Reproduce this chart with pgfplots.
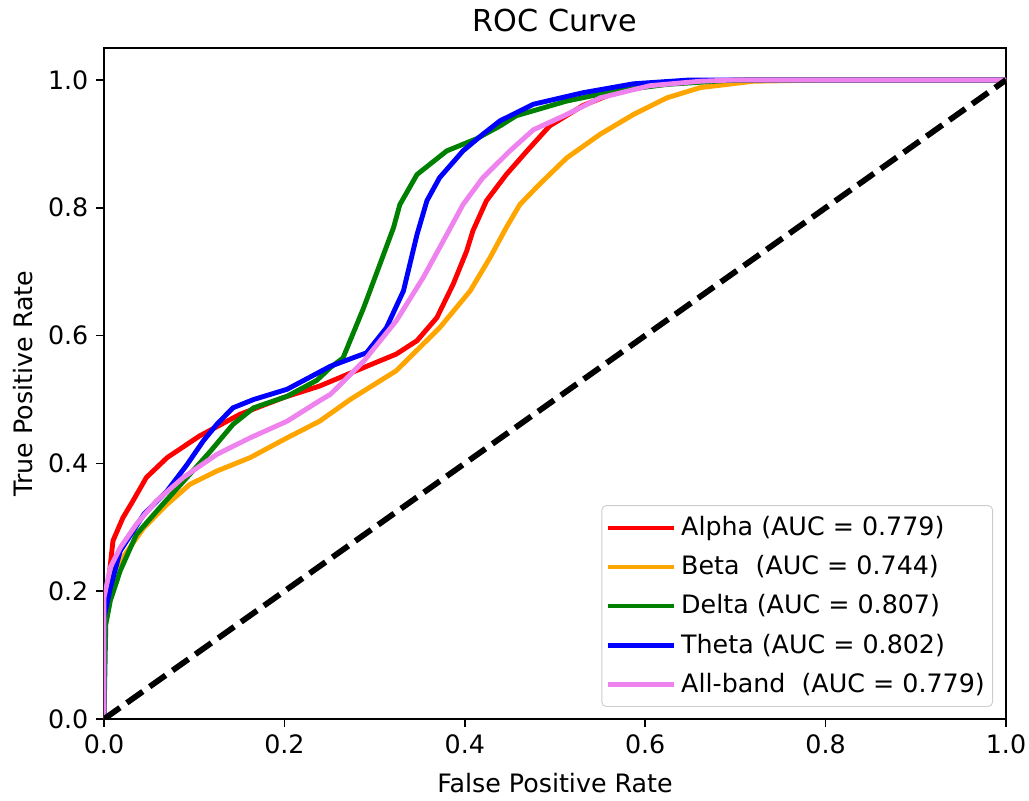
\documentclass[border=0pt]{standalone}
\usepackage{fontspec}
\setmainfont{DejaVu Sans}
\usepackage{pgfplots}
\pgfplotsset{compat=1.18}

\definecolor{mplorange}{HTML}{FFA500}
\definecolor{mplgreen}{HTML}{008000}
\definecolor{mplviolet}{HTML}{EE82EE}

\begin{document}
\begin{tikzpicture}
\begin{axis}[
    scale only axis,
    width=405.9pt, height=301.95pt,
    xmin=0, xmax=1, ymin=0, ymax=1.05,
    xtick={0,0.2,0.4,0.6,0.8,1},
    ytick={0,0.2,0.4,0.6,0.8,1},
    xticklabels={0.0,0.2,0.4,0.6,0.8,1.0},
    yticklabels={0.0,0.2,0.4,0.6,0.8,1.0},
    tick align=outside, tick pos=left,
    major tick length=3.5pt,
    tick style={black, line width=0.8pt},
    axis line style={line width=0.8pt},
    ticklabel style={font=\fontsize{11.4}{13.7}\selectfont},
    title={ROC Curve},
    title style={font=\fontsize{13.6}{16}\selectfont, yshift=-2.5pt},
    xlabel={False Positive Rate},
    ylabel={True Positive Rate},
    label style={font=\fontsize{11.4}{13.7}\selectfont},
    xlabel style={yshift=-2pt},
    legend cell align=left,
    legend style={at={(0.9856,0.018)}, anchor=south east,
        draw=black!20, rounded corners=2pt, fill=white, fill opacity=0.8,
        text opacity=1, font=\fontsize{11.4}{13.7}\selectfont,
        row sep=3.4pt, inner xsep=1.5pt, inner ysep=3pt},
    legend image code/.code={\draw[#1] (0pt,0pt) -- (24.75pt,0pt);
        \path (24.75pt,0pt) -- (30pt,0pt);},
    every axis plot/.append style={line width=2.2pt, line join=round},
]
% Alpha
\addplot[red] coordinates {
(0,0) (0,0.19) (0.005,0.216) (0.010,0.279) (0.021,0.315) (0.032,0.341)
(0.047,0.378) (0.070,0.409) (0.106,0.443) (0.151,0.477) (0.199,0.503)
(0.239,0.521) (0.288,0.550) (0.324,0.571) (0.347,0.592) (0.369,0.628)
(0.387,0.680) (0.402,0.732) (0.409,0.764) (0.424,0.811) (0.446,0.852)
(0.469,0.889) (0.494,0.928) (0.531,0.960) (0.568,0.981) (0.61,0.993)
(0.66,0.998) (0.72,1.0) (1,1)};
\addlegendentry{Alpha (AUC = 0.779)}
% Beta
\addplot[mplorange] coordinates {
(0,0) (0,0.19) (0.007,0.225) (0.018,0.247) (0.044,0.299) (0.070,0.336)
(0.095,0.367) (0.125,0.388) (0.162,0.409) (0.203,0.440) (0.239,0.466)
(0.273,0.500) (0.324,0.545) (0.372,0.612) (0.406,0.670) (0.428,0.722)
(0.446,0.769) (0.461,0.805) (0.483,0.837) (0.513,0.878) (0.550,0.915)
(0.587,0.946) (0.624,0.972) (0.661,0.988) (0.72,0.998) (0.80,1.0) (1,1)};
\addlegendentry{Beta\ \ (AUC = 0.744)}
% Delta
\addplot[mplgreen] coordinates {
(0,0) (0.002,0.148) (0.007,0.185) (0.018,0.232) (0.036,0.289) (0.062,0.331)
(0.092,0.378) (0.118,0.419) (0.143,0.461) (0.166,0.487) (0.203,0.505)
(0.236,0.530) (0.251,0.550) (0.265,0.565) (0.288,0.644) (0.306,0.712)
(0.321,0.769) (0.328,0.805) (0.347,0.852) (0.380,0.889) (0.413,0.908)
(0.439,0.928) (0.457,0.944) (0.513,0.967) (0.568,0.983) (0.624,0.993)
(0.70,1.0) (1,1)};
\addlegendentry{Delta (AUC = 0.807)}
% Theta
\addplot[blue] coordinates {
(0,0) (0,0.159) (0.007,0.205) (0.018,0.263) (0.044,0.320) (0.070,0.357)
(0.092,0.398) (0.110,0.435) (0.125,0.461) (0.143,0.487) (0.166,0.500)
(0.203,0.516) (0.251,0.552) (0.291,0.573) (0.313,0.612) (0.332,0.670)
(0.347,0.758) (0.358,0.811) (0.372,0.847) (0.398,0.889) (0.420,0.915)
(0.439,0.936) (0.476,0.962) (0.531,0.980) (0.587,0.994) (0.65,1.0) (1,1)};
\addlegendentry{Theta (AUC = 0.802)}
% All-band
\addplot[mplviolet] coordinates {
(0,0) (0,0.19) (0.007,0.237) (0.018,0.268) (0.036,0.305) (0.058,0.341)
(0.088,0.378) (0.125,0.414) (0.162,0.440) (0.203,0.466) (0.239,0.498)
(0.251,0.508) (0.288,0.560) (0.324,0.623) (0.354,0.691) (0.380,0.758)
(0.398,0.805) (0.420,0.847) (0.450,0.889) (0.476,0.922) (0.513,0.946)
(0.550,0.972) (0.605,0.991) (0.661,0.998) (0.70,1.0) (1,1)};
\addlegendentry{All-band\ \ (AUC = 0.779)}
% chance line
\addplot[black, line width=2.6pt, dash pattern=on 8.8pt off 3.8pt, forget plot]
    coordinates {(0,0) (1,1)};
\path (rel axis cs:0,0) ++(-46.8pt,-36.45pt) coordinate (bl);
\path (rel axis cs:1,1) ++(10.35pt,21.6pt) coordinate (tr);
\end{axis}
\pgfresetboundingbox
\path[use as bounding box] (bl) rectangle (tr);
\end{tikzpicture}
\end{document}
